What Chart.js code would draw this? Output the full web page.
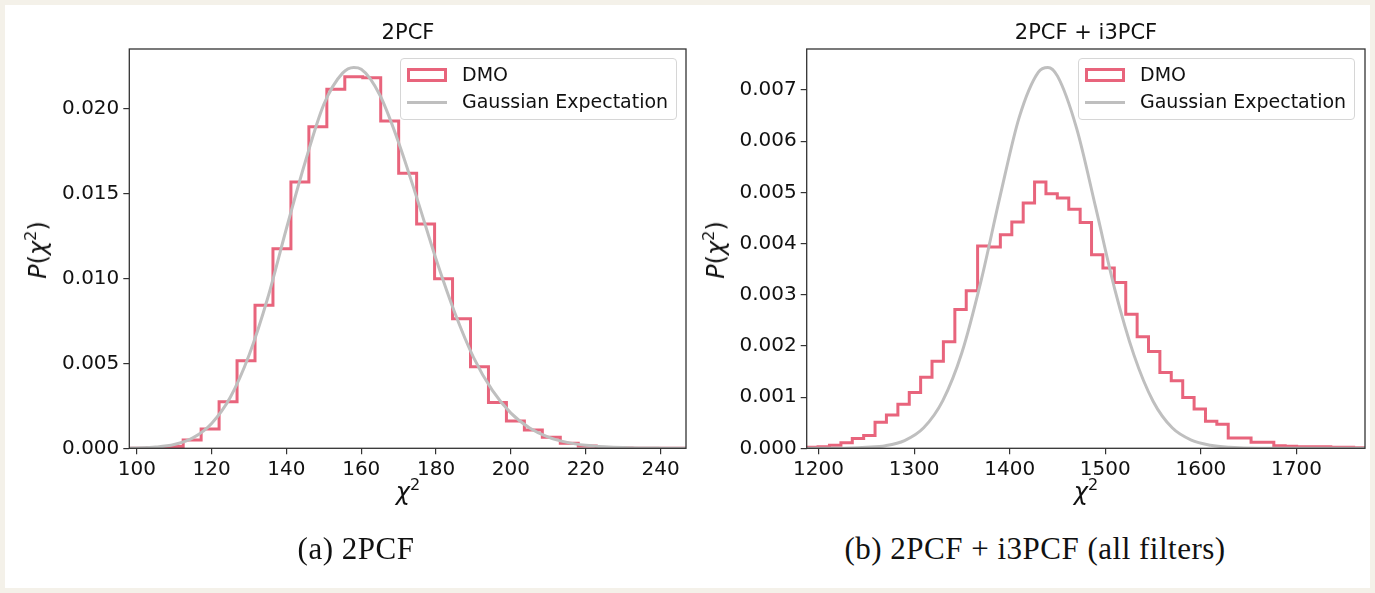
<!DOCTYPE html>
<html>
<head>
<meta charset="utf-8">
<script src="https://cdn.jsdelivr.net/npm/chart.js@4/dist/chart.umd.min.js"></script>
<style>
  body { margin: 0; width: 1375px; height: 593px; overflow: hidden; background: #f4f1e9; font-family: "DejaVu Sans", sans-serif; color: #111; }
  #sheet { position: absolute; left: 5px; top: 5px; width: 1365px; height: 583px; background: #fff; }
  canvas { position: absolute; top: 0; }
  .txt { position: absolute; white-space: nowrap; transform: translate(-50%, -50%); }
  .ttl { font-size: 21px; }
  .xlab { font-size: 24px; font-style: italic; }
  .ylab { font-size: 24px; transform: translate(-50%, -50%) rotate(-90deg); }
  .ylab i { font-style: italic; }
  sup { font-size: 16px; font-style: normal; vertical-align: 10px; line-height: 0; }
  .cap { font-family: "Liberation Serif", serif; font-size: 31px; letter-spacing: 0.5px; }
  .legend { position: absolute; width: 275px; height: 60px; border: 1px solid #d6d6d6; border-radius: 4px; background: rgba(255,255,255,0.8); font-size: 19px; }
  .legend .patch { position: absolute; left: 6px; top: 9px; width: 34px; height: 8px; border: 3px solid #e8647c; }
  .legend .line { position: absolute; left: 6px; top: 42px; width: 40px; height: 3px; background: #bfbfbf; }
  .legend .l1 { position: absolute; left: 61px; top: 4px; }
  .legend .l2 { position: absolute; left: 61px; top: 31px; }
</style>
</head>
<body>
<div id="sheet"></div>
<canvas id="leftChart" width="700" height="480" style="left:0px"></canvas>
<canvas id="rightChart" width="685" height="480" style="left:690px"></canvas>

<div class="txt ttl" style="left:408px;top:32px">2PCF</div>
<div class="txt ttl" style="left:1086px;top:32px">2PCF + i3PCF</div>
<div class="txt xlab" style="left:408px;top:492px">χ<sup>2</sup></div>
<div class="txt xlab" style="left:1086px;top:492px">χ<sup>2</sup></div>
<div class="txt ylab" style="left:38px;top:250px"><i>P</i>(<i>χ</i><sup>2</sup>)</div>
<div class="txt ylab" style="left:716px;top:250px"><i>P</i>(<i>χ</i><sup>2</sup>)</div>
<div class="txt cap" style="left:356px;top:549px">(a) 2PCF</div>
<div class="txt cap" style="left:1035px;top:549px">(b) 2PCF + i3PCF (all filters)</div>

<div class="legend" style="left:400px;top:58px">
  <div class="patch"></div><div class="l1">DMO</div>
  <div class="line"></div><div class="l2">Gaussian Expectation</div>
</div>
<div class="legend" style="left:1078px;top:58px">
  <div class="patch"></div><div class="l1">DMO</div>
  <div class="line"></div><div class="l2">Gaussian Expectation</div>
</div>

<script>
// 2PCF histogram (density), bin edges and heights
const leftEdges = [98.0, 102.8, 107.6, 112.4, 117.2, 122.0, 126.8, 131.6, 136.4, 141.2, 146.0, 150.8, 155.6, 160.4, 165.2, 170.0,
  174.8, 179.6, 184.4, 189.2, 194.0, 198.8, 203.6, 208.4, 213.2, 218.0, 222.8, 227.6, 232.4, 237.2, 242.0, 246.8];
const leftHist = [0.00001, 0.00004, 0.0001, 0.00049, 0.00113, 0.00274, 0.00515, 0.00841, 0.01174, 0.01566, 0.01892, 0.02112,
  0.02186, 0.0218, 0.01925, 0.01618, 0.01319, 0.00998, 0.00762, 0.0048, 0.0027, 0.0016, 0.00108, 0.00065, 0.0003, 0.00014,
  0.00005, 0.00002, 0.00001, 0.00001, 0];
const leftGaussX = [98, 100, 105, 110, 115, 120, 125, 130, 135, 140, 145, 150, 155, 158, 160, 165, 170, 175, 180, 185, 190, 195,
  200, 205, 210, 215, 220, 225, 230, 235, 240, 246.8];
const leftGaussY = [0.00001, 0.00002, 0.00007, 0.00022, 0.00061, 0.00146, 0.0030, 0.00547, 0.00884, 0.01293, 0.01683, 0.02023,
  0.02207, 0.0224, 0.0223, 0.02077, 0.01798, 0.01463, 0.01112, 0.00797, 0.00535, 0.00342, 0.00207, 0.0012, 0.00066, 0.00035,
  0.00018, 0.00009, 0.00004, 0.00002, 0.00001, 0];
const leftXTicks = [100, 120, 140, 160, 180, 200, 220, 240];
const leftYTicks = [0, 0.005, 0.010, 0.015, 0.020];

// 2PCF + i3PCF histogram
const rightEdges = [1187.6, 1199.5, 1211.4, 1223.4, 1235.3, 1247.2, 1259.1, 1271.0, 1283.0, 1294.9, 1306.8, 1318.7, 1330.6,
  1342.6, 1354.5, 1366.4, 1378.3, 1390.2, 1402.2, 1414.1, 1426.0, 1437.9, 1449.8, 1461.8, 1473.7, 1485.6, 1497.5, 1509.4,
  1521.4, 1533.3, 1545.2, 1557.1, 1569.0, 1581.0, 1592.9, 1604.8, 1616.7, 1628.6, 1640.6, 1652.5, 1664.4, 1676.3, 1688.2,
  1700.2, 1712.1, 1724.0, 1735.9, 1747.8, 1759.8, 1771.7];
const rightHist = [0.00002, 0.00003, 0.00006, 0.00011, 0.00019, 0.00025, 0.00051, 0.00065, 0.00086, 0.00109, 0.00139, 0.0017,
  0.00208, 0.00271, 0.00308, 0.00395, 0.00393, 0.00417, 0.00442, 0.00479, 0.0052, 0.00497, 0.00489, 0.00467, 0.00441,
  0.00378, 0.00352, 0.00324, 0.00262, 0.00218, 0.00189, 0.00148, 0.00132, 0.00099, 0.00077, 0.00053, 0.00047, 0.0002,
  0.0002, 0.00012, 0.00012, 0.00005, 0.00004, 0.00003, 0.00003, 0.00003, 0.00002, 0.00002, 0.00001];
const rightGaussX = [1187.6, 1220, 1250, 1270, 1290, 1310, 1330, 1350, 1370, 1390, 1410, 1430, 1440, 1450, 1470, 1490, 1510,
  1530, 1550, 1570, 1590, 1610, 1630, 1660, 1700, 1771.7];
const rightGaussY = [0, 0, 0.00002, 0.00005, 0.00015, 0.0004, 0.00093, 0.00187, 0.00327, 0.00493, 0.00647, 0.00735, 0.00744,
  0.00727, 0.00625, 0.0047, 0.0031, 0.00182, 0.00092, 0.0004, 0.00016, 0.00006, 0.00002, 0, 0, 0];
const rightXTicks = [1200, 1300, 1400, 1500, 1600, 1700];
const rightYTicks = [0, 0.001, 0.002, 0.003, 0.004, 0.005, 0.006, 0.007];

const histColor = '#e8647c';
const gaussColor = '#bfbfbf';
const axisColor = '#333333';

Chart.defaults.font.family = 'DejaVu Sans';
Chart.defaults.font.size = 20;
Chart.defaults.color = '#111111';

// box around the plot area (all four spines)
const framePlugin = {
  id: 'frame',
  afterDraw(chart) {
    const a = chart.chartArea;
    const ctx = chart.ctx;
    ctx.save();
    ctx.strokeStyle = axisColor;
    ctx.lineWidth = 1.3;
    ctx.strokeRect(a.left, a.top, a.right - a.left, a.bottom - a.top);
    ctx.restore();
  }
};

function stepPoints(edges, heights) {
  const pts = [{ x: edges[0], y: 0 }];
  heights.forEach((h, i) => pts.push({ x: edges[i + 1], y: h }));
  pts.push({ x: edges[edges.length - 1], y: 0 });
  return pts;
}

function makeChart(id, edges, hist, gx, gy, xTicks, yTicks, xMin, xMax, yMax, yWidth, padRight) {
  const ctx = document.getElementById(id).getContext('2d');
  return new Chart(ctx, {
    type: 'scatter',
    data: {
      datasets: [
        {
          label: 'Gaussian Expectation',
          data: gx.map((x, i) => ({ x: x, y: gy[i] })),
          showLine: true,
          borderColor: gaussColor,
          borderWidth: 3,
          pointRadius: 0,
          cubicInterpolationMode: 'monotone',
          order: 0
        },
        {
          label: 'DMO',
          data: stepPoints(edges, hist),
          showLine: true,
          stepped: 'after',
          borderColor: histColor,
          borderWidth: 3,
          borderJoinStyle: 'miter',
          pointRadius: 0,
          order: 1
        }
      ]
    },
    options: {
      responsive: false,
      animation: false,
      devicePixelRatio: 1,
      layout: { padding: { top: 49, right: padRight, left: 0, bottom: 0 } },
      plugins: { legend: { display: false }, tooltip: { enabled: false } },
      scales: {
        x: {
          type: 'linear',
          min: xMin,
          max: xMax,
          border: { display: false },
          grid: { drawOnChartArea: false, drawTicks: true, tickLength: 6, color: axisColor, lineWidth: 1.2 },
          ticks: { padding: 3, maxRotation: 0, callback: v => String(v) },
          afterBuildTicks: s => { s.ticks = xTicks.map(v => ({ value: v })); },
          afterFit: s => { s.height = 480 - 448.3; }
        },
        y: {
          type: 'linear',
          min: 0,
          max: yMax,
          border: { display: false },
          grid: { drawOnChartArea: false, drawTicks: true, tickLength: 6, color: axisColor, lineWidth: 1.2 },
          ticks: { padding: 4, callback: v => v.toFixed(3) },
          afterBuildTicks: s => { s.ticks = yTicks.map(v => ({ value: v })); },
          afterFit: s => { s.width = yWidth; }
        }
      }
    },
    plugins: [framePlugin]
  });
}

makeChart('leftChart', leftEdges, leftHist, leftGaussX, leftGaussY, leftXTicks, leftYTicks,
  98.0, 246.8, 0.02349, 129.3, 14);
makeChart('rightChart', rightEdges, rightHist, rightGaussX, rightGaussY, rightXTicks, rightYTicks,
  1187.6, 1771.7, 0.0078, 116.7, 10);
</script>
</body>
</html>
